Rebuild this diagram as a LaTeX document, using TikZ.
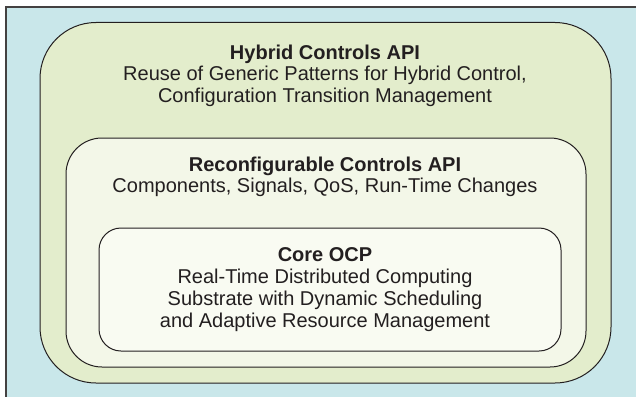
\documentclass[tikz,border=0pt]{standalone}
\usepackage{fontspec}
\setmainfont{Liberation Sans}
\definecolor{bgcyan}{HTML}{C9E7EA}
\definecolor{hybfill}{HTML}{E3EDCC}
\definecolor{recfill}{HTML}{F3F7E8}
\definecolor{corefill}{HTML}{F9FBF2}
\definecolor{txt}{HTML}{231F20}
\definecolor{edge}{HTML}{231F20}
\tikzset{
  layerbox/.style={draw=edge, line width=1pt},
  layertext/.style={align=center, inner sep=0pt, anchor=north, text=txt,
    font=\fontsize{20}{21.8}\selectfont}
}
\begin{document}
\begin{tikzpicture}[x=1pt,y=-1pt]
\useasboundingbox (0,0) rectangle (636,396);
\clip (0,0) rectangle (636,396);
\draw[fill=bgcyan, draw=edge!85, line width=1.2pt] (6,7) rectangle (660,420);
\draw[layerbox, fill=hybfill, rounded corners=56pt] (40,22.5) rectangle (611,383);
\draw[layerbox, fill=recfill, rounded corners=36pt] (66,138) rectangle (586,367);
\draw[layerbox, fill=corefill, rounded corners=22pt] (99,228) rectangle (561,351);
\node[layertext] (hyb) at (325,44.5) {\textbf{Hybrid Controls API}\\Reuse of Generic Patterns for Hybrid Control,\\Configuration Transition Management};
\node[layertext] (rec) at (325,156.5) {\textbf{Reconfigurable Controls API}\\Components, Signals, QoS, Run-Time Changes};
\node[layertext] (core) at (325,247.5) {\textbf{Core OCP}\\Real-Time Distributed Computing\\Substrate with Dynamic Scheduling\\and Adaptive Resource Management};
\end{tikzpicture}
\end{document}
